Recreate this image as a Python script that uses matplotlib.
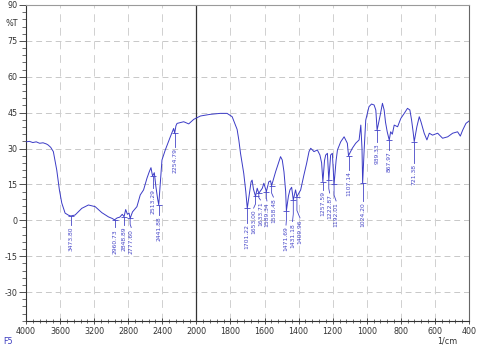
import matplotlib

matplotlib.use("Agg")
import matplotlib.pyplot as plt
import numpy as np

# spectrum trace (wavenumber 1/cm, %T)
wavenumber = [
    4000, 3960, 3920, 3880, 3840, 3800, 3760, 3741, 3710, 3679, 3660, 3639, 3608, 3580, 3541,
    3500, 3473.8, 3424, 3345, 3267, 3188, 3110, 3031, 2990, 2960.73, 2930, 2900, 2870, 2848.89,
    2830, 2810, 2790, 2777.6, 2750, 2698, 2659, 2620, 2580, 2553, 2533, 2520, 2513.29, 2494,
    2475, 2455, 2441.88, 2420, 2404, 2365, 2306, 2267, 2254.79, 2240, 2227, 2149, 2090, 2031,
    1976, 1918, 1859, 1820, 1790, 1771, 1761, 1751, 1741, 1722, 1710, 1701.22, 1690, 1679,
    1673, 1665, 1653, 1643, 1633.71, 1613, 1604, 1589.34, 1575, 1565, 1558.48, 1549, 1535,
    1522, 1506, 1496, 1486, 1476, 1471.69, 1460, 1451, 1441, 1431.18, 1418, 1409.96, 1388,
    1369, 1353, 1339, 1329, 1319, 1310, 1290, 1275, 1265, 1257.59, 1248, 1241, 1231, 1222.87,
    1212, 1202, 1192.01, 1180, 1172, 1153, 1133, 1114, 1107.14, 1085, 1065, 1045, 1035, 1028,
    1024.2, 1015, 1006, 987, 972, 957, 947, 939.33, 921, 908, 898, 890, 880, 867.97, 860, 850,
    839, 819, 800, 780, 761, 747, 737, 728, 721.38, 706, 692, 682, 663, 647, 633, 614, 584,
    555, 525, 496, 467, 451, 437, 418, 400,
]
transmittance = [
    32.8, 33.0, 32.5, 32.8, 32.2, 32.4, 31.9, 31.5, 30.5, 28.7, 25.0, 21.0, 12.7, 7.2, 3.0,
    2.1, 1.8, 2.2, 5.0, 6.4, 5.7, 3.2, 1.4, 0.8, 0.2, 1.0, 1.3, 2.5, 1.5,
    4.5, 2.5, 3.0, 0.8, 3.5, 5.7, 10.6, 12.7, 17.6, 20.3, 22.0, 19.5, 18.5, 19.9,
    14.0, 9.0, 6.5, 17.0, 25.2, 29.4, 34.9, 38.4, 36.4, 39.5, 40.5, 41.2, 40.3, 42.2,
    43.6, 44.3, 44.7, 44.7, 43.3, 39.8, 38.0, 33.6, 28.0, 19.6, 12.0, 5.0, 10.5, 16.1,
    16.8, 13.0, 10.0, 13.4, 11.3, 13.4, 15.5, 12.0, 16.1, 16.5, 14.5, 16.8, 20.3,
    23.1, 26.6, 25.2, 20.3, 12.0, 4.0, 10.0, 12.7, 13.8, 8.5, 12.7, 9.9, 12.7,
    18.9, 23.8, 28.7, 30.1, 29.4, 28.7, 29.4, 27.3, 24.0, 16.1, 25.0, 27.3, 28.0, 16.8,
    27.3, 28.0, 15.0, 25.0, 29.4, 32.8, 34.9, 32.2, 27.0, 30.1, 32.2, 33.6, 39.8, 30.0,
    15.5, 30.0, 41.9, 47.5, 48.6, 48.2, 46.1, 37.7, 44.0, 48.9, 46.1, 41.0, 37.0, 33.5, 37.0, 36.0,
    39.8, 39.1, 42.6, 44.7, 46.8, 46.1, 41.9, 37.0, 32.9, 39.1, 43.3, 41.2, 36.4, 33.6, 36.4, 35.6, 36.4,
    34.3, 34.9, 36.4, 37.0, 35.2, 37.7, 40.5, 41.5,
]

# peak picks: position, %T at the dip, where the label text sits (x in 1/cm, top in %T)
peak_wn = [3473.80, 2960.73, 2848.89, 2777.60, 2513.29, 2441.88, 2254.79, 1701.22, 1653.00,
           1633.71, 1589.34, 1558.48, 1471.69, 1431.18, 1409.96, 1257.59, 1222.87, 1192.01,
           1107.14, 1024.20, 939.33, 867.97, 721.38]
peak_t = [1.8, 0.2, 1.5, 0.8, 18.5, 6.5, 36.4, 5.0, 10.0,
          11.3, 12.0, 14.5, 4.0, 8.5, 9.9, 16.1, 16.8, 15.0,
          27.0, 15.5, 37.7, 33.5, 32.9]
label_x = [3473.80, 2960.73, 2848.89, 2765.0, 2513.29, 2441.88, 2254.79, 1701.22, 1664.0,
           1624.0, 1586.0, 1548.0, 1474.0, 1436.0, 1392.0, 1257.59, 1218.0, 1180.0,
           1107.14, 1024.20, 939.33, 867.97, 721.38]
label_top = [-2.0, -3.0, -2.0, -3.0, 13.5, 2.2, 30.8, -1.1, 5.1,
             8.5, 8.1, 9.7, -2.0, -0.5, 1.0, 12.7, 11.4, 8.1,
             21.0, 8.1, 32.7, 29.4, 24.0]

x_major = [4000, 3600, 3200, 2800, 2400, 2000, 1800, 1600, 1400, 1200, 1000, 800, 600, 400]
y_major = [90, 75, 60, 45, 30, 15, 0, -15, -30]

CURVE = "#3b3bc6"
LABEL = "#4646c8"


def fwd(x):
    x = np.asarray(x, dtype=float)
    return np.where(x <= 2000, x, 2000 + (x - 2000) / 2)


def inv(y):
    y = np.asarray(y, dtype=float)
    return np.where(y <= 2000, y, 2000 + (y - 2000) * 2)


fig = plt.figure(figsize=(4.8, 3.48), dpi=100)
ax = fig.add_axes([26 / 480, 27 / 348, 443 / 480, 316 / 348])
ax.set_xscale("function", functions=(fwd, inv))
ax.set_xlim(4000, 400)
ax.set_ylim(-42.1, 90)

for v in y_major[1:]:
    ax.axhline(v, color="#c8c8c8", lw=0.7, dashes=(6, 4), zorder=0)
for v in x_major[1:-1]:
    if v == 2000:
        ax.axvline(v, color="#333333", lw=0.9, zorder=1)
    else:
        ax.axvline(v, color="#d0d0d0", lw=0.7, dashes=(8, 6), zorder=0)

ax.plot(wavenumber, transmittance, color=CURVE, lw=0.7, zorder=3)

for wn, t, lx, top in zip(peak_wn, peak_t, label_x, label_top):
    mid = top + 0.35 * (t - top)
    ax.plot([wn, wn, lx], [t, mid, top], color=LABEL, lw=0.6, zorder=3)
    ax.plot([wn], [t], marker="_", ms=4, mew=0.6, color=LABEL, zorder=3)
    ax.text(lx, top - 0.6, f"{wn:.2f}", rotation=90, ha="center", va="top",
            fontsize=4.3, color=LABEL)

ax.set_xticks(x_major)
ax.set_xticklabels([str(v) for v in x_major])
minor_x = list(np.arange(4000, 2000, -80)) + list(np.arange(2000, 399, -40))
ax.set_xticks(minor_x, minor=True)
ax.set_yticks(y_major)
ax.set_yticklabels([str(v) for v in y_major])
ax.set_yticks(np.arange(-42, 91, 3), minor=True)

ax.tick_params(axis="x", which="major", direction="inout", length=4, width=0.6,
               labelsize=5.8, pad=2, colors="#333333")
ax.tick_params(axis="x", which="minor", direction="inout", length=3, width=0.5, colors="#333333")
ax.tick_params(axis="y", which="major", direction="out", length=5, width=0.6,
               labelsize=5.8, pad=1, colors="#333333")
ax.tick_params(axis="y", which="minor", direction="out", length=3, width=0.5, colors="#333333")

for side in ("left", "bottom"):
    ax.spines[side].set_color("#333333")
    ax.spines[side].set_linewidth(0.8)
ax.spines["top"].set_color("#9a9a9a")
ax.spines["right"].set_color("#666666")

fig.text(12 / 480, 1 - 23 / 348, "%T", fontsize=5.8, color="#333333", ha="center", va="center")
fig.text(447 / 480, 1 - 341 / 348, "1/cm", fontsize=5.8, color="#333333", ha="center", va="center")
fig.text(8 / 480, 1 - 341 / 348, "F5", fontsize=5.8, color="#3a3ac0", ha="center", va="center")

fig.savefig("out.png", dpi=100)
plt.close(fig)
